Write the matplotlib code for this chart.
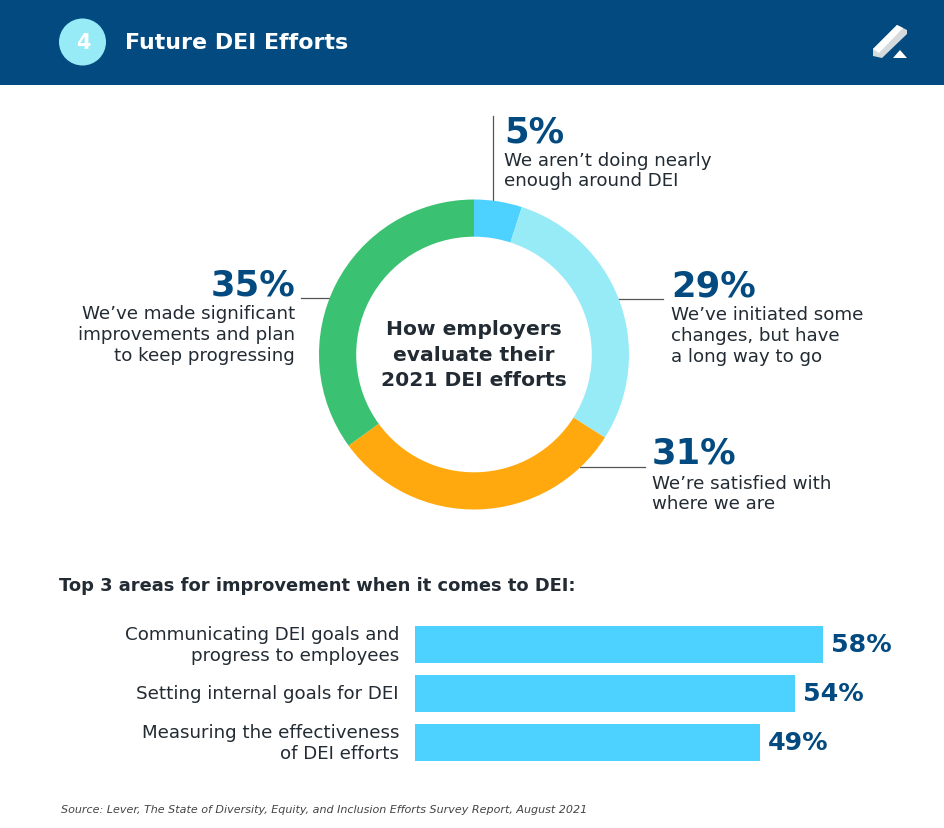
import numpy as np
import matplotlib
matplotlib.use("Agg")
import matplotlib.pyplot as plt
from matplotlib.patches import Rectangle, Circle, Polygon

plt.rcParams['font.family'] = ['DejaVu Sans']

W, H = 944, 829

# donut data
donut_values = [5, 29, 31, 35]
donut_colors = ['#4dd2ff', '#96ebf7', '#ffa90f', '#3ac171']

# bars
bar_labels = ['Communicating DEI goals and\nprogress to employees',
              'Setting internal goals for DEI',
              'Measuring the effectiveness\nof DEI efforts']
bar_values = [58, 54, 49]
bar_color = '#4dd2ff'

navy = '#024a7f'
dark = '#222b33'

fig = plt.figure(figsize=(W / 100, H / 100), dpi=100, facecolor='white')

# full canvas in pixels for header, texts and leader lines
bg = fig.add_axes([0, 0, 1, 1])
bg.set_xlim(0, W)
bg.set_ylim(H, 0)
bg.axis('off')

bg.add_patch(Rectangle((0, 0), W, 85.5, color=navy, lw=0))
bg.add_patch(Circle((82.5, 43), 23.5, color='#96ebf7', lw=0))
bg.text(83, 43, '4', color='white', fontsize=15, fontweight='bold', ha='center', va='center')
bg.text(125, 43, 'Future DEI Efforts', color='white', fontsize=15.95, fontweight='bold', ha='left', va='center')

# logo
bg.add_patch(Polygon([[873, 50], [897, 26], [907, 31], [907, 35], [882, 59], [873, 57]], color='#d5dadd', lw=0))
bg.add_patch(Polygon([[873, 50], [897, 26], [903, 29], [879, 54]], color='white', lw=0))
bg.add_patch(Polygon([[893, 59], [900, 51], [907, 59]], color='white', lw=0))

# donut
ax = fig.add_axes([319 / W, 1 - 510.5 / H, 310 / W, 310 / H])
ax.pie(donut_values, colors=donut_colors, startangle=90, counterclock=False,
       radius=1, wedgeprops=dict(width=0.24, linewidth=0))
ax.set_xlim(-1, 1)
ax.set_ylim(-1, 1)

bg.text(474, 355, 'How employers\nevaluate their\n2021 DEI efforts', ha='center', va='center',
        fontsize=14.6, fontweight='bold', color=dark, linespacing=1.44)

# leader lines
for xs, ys in [([493, 493], [117, 206]), ([618, 663], [299.5, 299.5]),
               ([580, 645], [467.5, 467.5]), ([301, 329], [298.5, 298.5])]:
    bg.plot(xs, ys, color='#555555', lw=0.9)

pct = dict(color=navy, fontsize=25.5, fontweight='bold', va='center')
desc = dict(color=dark, fontsize=13.15, va='center', linespacing=1.2)

bg.text(504, 132, '5%', ha='left', **pct)
bg.text(504, 171, 'We aren\u2019t doing nearly\nenough around DEI', ha='left', **desc)
bg.text(671, 286, '29%', ha='left', **pct)
bg.text(671, 336, 'We\u2019ve initiated some\nchanges, but have\na long way to go', ha='left', **desc)
bg.text(652, 454, '31%', ha='left', **pct)
bg.text(652, 494, 'We\u2019re satisfied with\nwhere we are', ha='left', **desc)
bg.text(295, 285, '35%', ha='right', **pct)
bg.text(295, 335, 'We\u2019ve made significant\nimprovements and plan\nto keep progressing', ha='right', multialignment='right', **desc)

bg.text(59, 586, 'Top 3 areas for improvement when it comes to DEI:', fontsize=12.9, fontweight='bold',
        color=dark, va='center')

# bars
bar_ax = fig.add_axes([415 / W, 1 - 768 / H, 408 / W, 147 / H])
y = np.arange(len(bar_values))
bar_ax.barh(y, bar_values, height=0.76, color=bar_color, lw=0)
bar_ax.set_xlim(0, 58)
bar_ax.set_ylim(2.5, -0.5)
bar_ax.axis('off')
for yi, v, lab in zip(y, bar_values, bar_labels):
    bar_ax.annotate(f'{v}%', (v, yi), xytext=(8, 0), textcoords='offset pixels', color=navy,
                    fontsize=18.2, fontweight='bold', va='center', annotation_clip=False)
    bar_ax.annotate(lab, (0, yi), xytext=(-16, 0), textcoords='offset pixels', ha='right', va='center',
                    multialignment='right', color=dark, fontsize=13.15,
                    linespacing=1.2, annotation_clip=False)

bg.text(61, 810, 'Source: Lever, The State of Diversity, Equity, and Inclusion Efforts Survey Report, August 2021',
        fontsize=8.0, style='italic', color='#444444', va='center')

fig.savefig('out.png', dpi=100)
